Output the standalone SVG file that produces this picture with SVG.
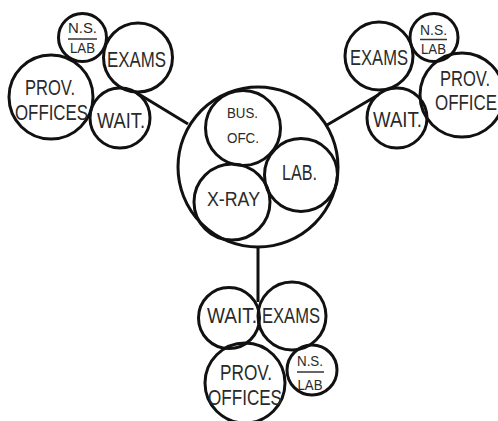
<svg xmlns="http://www.w3.org/2000/svg" width="498" height="421" viewBox="0 0 498 421">
<style>
.c{fill:none;stroke:#111;stroke-width:3}
.l{stroke:#111;stroke-width:3;fill:none}
.u{stroke:#333;stroke-width:1.5}
text{font-family:"Liberation Sans Narrow","Liberation Sans",Arial,sans-serif;fill:#2a2a2a;text-anchor:middle}
.b{font-size:22px}
.m{font-size:20px}
.s{font-size:14.5px}
</style>
<rect width="498" height="421" fill="#fff"/>
<g id="connectors">
<line class="l" x1="188" y1="124" x2="137" y2="93"/>
<line class="l" x1="327" y1="125" x2="378" y2="95"/>
<line class="l" x1="258" y1="247" x2="258" y2="302"/>
</g>
<g id="center">
<circle class="c" cx="258" cy="167" r="80"/>
</g>
<g id="bus-ofc">
<circle class="c" cx="243" cy="128" r="37.5"/>
<text class="s" x="242.5" y="118" textLength="31" lengthAdjust="spacingAndGlyphs">BUS.</text>
<text class="s" x="243" y="143" textLength="32" lengthAdjust="spacingAndGlyphs">OFC.</text>
</g>
<g id="lab">
<circle class="c" cx="301" cy="175" r="36.5"/>
<text class="b" x="299.5" y="180" textLength="35" lengthAdjust="spacingAndGlyphs">LAB.</text>
</g>
<g id="xray">
<circle class="c" cx="232" cy="202" r="38"/>
<text class="m" x="233.5" y="206" textLength="53" lengthAdjust="spacingAndGlyphs">X-RAY</text>
</g>
<g id="tl-nslab">
<circle class="c" cx="82.5" cy="37.5" r="24"/>
<text class="s" x="82.5" y="33" textLength="29" lengthAdjust="spacingAndGlyphs">N.S.</text>
<line class="u" x1="68" y1="39" x2="97" y2="39"/>
<text class="s" x="82.5" y="53" textLength="25" lengthAdjust="spacingAndGlyphs">LAB</text>
</g>
<g id="tl-exams">
<circle class="c" cx="138" cy="57.5" r="34.5"/>
<text class="b" x="136.5" y="66.5" textLength="59" lengthAdjust="spacingAndGlyphs">EXAMS</text>
</g>
<g id="tl-prov">
<circle class="c" cx="51" cy="97" r="42"/>
<text class="b" x="50" y="95" textLength="50" lengthAdjust="spacingAndGlyphs">PROV.</text>
<text class="b" x="51.5" y="120" textLength="73" lengthAdjust="spacingAndGlyphs">OFFICES</text>
</g>
<g id="tl-wait">
<circle class="c" cx="120" cy="118" r="30"/>
<text class="b" x="121" y="127.5" textLength="48" lengthAdjust="spacingAndGlyphs">WAIT.</text>
</g>
<g id="tr-exams">
<circle class="c" cx="379" cy="56" r="34"/>
<text class="b" x="379" y="65" textLength="58" lengthAdjust="spacingAndGlyphs">EXAMS</text>
</g>
<g id="tr-nslab">
<circle class="c" cx="434" cy="37.5" r="24"/>
<text class="s" x="433.5" y="35" textLength="27" lengthAdjust="spacingAndGlyphs">N.S.</text>
<line class="u" x1="420" y1="39.5" x2="447" y2="39.5"/>
<text class="s" x="433.5" y="54" textLength="25" lengthAdjust="spacingAndGlyphs">LAB</text>
</g>
<g id="tr-prov">
<circle class="c" cx="462" cy="95" r="42"/>
<text class="b" x="465" y="86" textLength="50" lengthAdjust="spacingAndGlyphs">PROV.</text>
<text class="b" x="466" y="110" textLength="62" lengthAdjust="spacingAndGlyphs">OFFICE</text>
</g>
<g id="tr-wait">
<circle class="c" cx="397" cy="118" r="30"/>
<text class="b" x="397.5" y="127" textLength="49" lengthAdjust="spacingAndGlyphs">WAIT.</text>
</g>
<g id="b-wait">
<circle class="c" cx="229" cy="318" r="30.5"/>
<text class="b" x="232" y="323" textLength="50" lengthAdjust="spacingAndGlyphs">WAIT.</text>
</g>
<g id="b-exams">
<circle class="c" cx="292" cy="316" r="34"/>
<text class="b" x="291" y="323" textLength="58" lengthAdjust="spacingAndGlyphs">EXAMS</text>
</g>
<g id="b-prov">
<circle class="c" cx="245" cy="383" r="40"/>
<text class="b" x="246" y="380" textLength="52" lengthAdjust="spacingAndGlyphs">PROV.</text>
<text class="b" x="245" y="405" textLength="74" lengthAdjust="spacingAndGlyphs">OFFICES</text>
</g>
<g id="b-nslab">
<circle class="c" cx="312" cy="370" r="25"/>
<text class="s" x="310" y="366" textLength="26" lengthAdjust="spacingAndGlyphs">N.S.</text>
<line class="u" x1="297" y1="372" x2="324" y2="372"/>
<text class="s" x="310" y="390" textLength="25" lengthAdjust="spacingAndGlyphs">LAB</text>
</g>
</svg>
